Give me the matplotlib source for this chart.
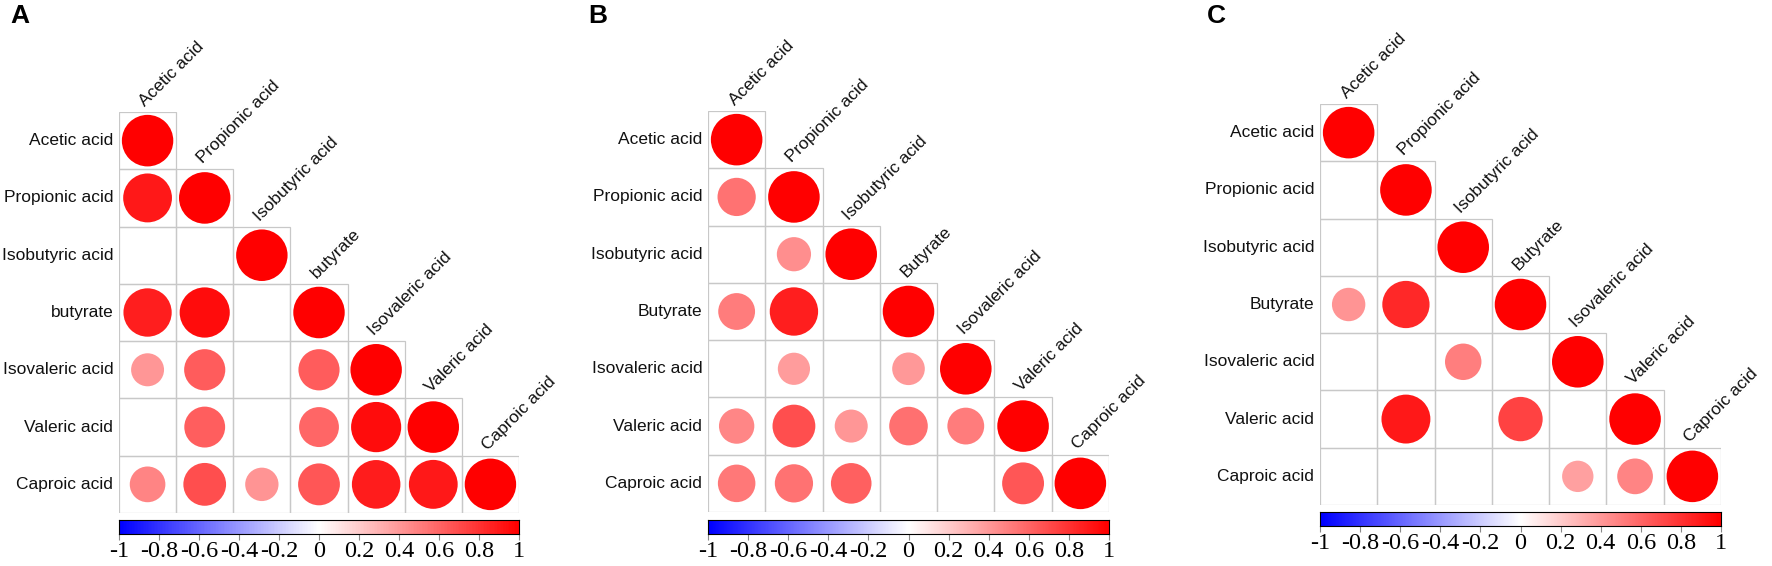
import numpy as np
import matplotlib
matplotlib.use("Agg")
import matplotlib.pyplot as plt
from matplotlib.colors import LinearSegmentedColormap
from matplotlib.patches import Circle, Rectangle

nan = np.nan

# ── data ─────────────────────────────────────────────────────────────────────
labels_a = ["Acetic acid", "Propionic acid", "Isobutyric acid", "butyrate",
            "Isovaleric acid", "Valeric acid", "Caproic acid"]
labels_bc = ["Acetic acid", "Propionic acid", "Isobutyric acid", "Butyrate",
             "Isovaleric acid", "Valeric acid", "Caproic acid"]

# lower triangle, row by row (nan = not significant / blank)
corr_a = [
    [1],
    [0.90, 1],
    [nan, nan, 1],
    [0.88, 0.95, nan, 1],
    [0.41, 0.64, nan, 0.64, 1],
    [nan, 0.63, nan, 0.60, 0.95, 1],
    [0.48, 0.69, 0.42, 0.66, 0.89, 0.90, 1],
]
corr_b = [
    [1],
    [0.55, 1],
    [nan, 0.44, 1],
    [0.51, 0.88, nan, 1],
    [nan, 0.39, nan, 0.40, 1],
    [0.47, 0.69, 0.41, 0.56, 0.51, 1],
    [0.53, 0.55, 0.62, nan, nan, 0.66, 1],
]
corr_c = [
    [1],
    [nan, 1],
    [nan, nan, 1],
    [0.42, 0.84, nan, 1],
    [nan, nan, 0.50, nan, 1],
    [nan, 0.90, nan, 0.74, nan, 1],
    [nan, nan, nan, nan, 0.37, 0.48, 1],
]

cbar_ticks = [-1, -0.8, -0.6, -0.4, -0.2, 0, 0.2, 0.4, 0.6, 0.8, 1]
cbar_labels = ["-1", "-0.8", "-0.6", "-0.4", "-0.2", "0",
               "0.2", "0.4", "0.6", "0.8", "1"]

# ── layout (pixels) ──────────────────────────────────────────────────────────
W, H = 1772, 566
panels = [
    # letter, letter_x, labels, corr, grid box (x0, y0, x1, y1), colorbar box
    ("A", 10, labels_a, corr_a, (119, 112, 519, 513), (119, 520, 519, 534)),
    ("B", 588, labels_bc, corr_b, (708, 111, 1109, 512), (708, 520, 1109, 534)),
    ("C", 1207, labels_bc, corr_c, (1320, 104, 1721, 505), (1320, 512, 1721, 526)),
]

cmap = LinearSegmentedColormap.from_list("bwr_corr", ["#0000FF", "#FFFFFF", "#FF0000"])
SANS = "Liberation Sans"
SERIF = "Liberation Serif"
GRID = "#c8c8c8"


def fig_box(x0, y0, x1, y1):
    return [x0 / W, 1 - y1 / H, (x1 - x0) / W, (y1 - y0) / H]


fig = plt.figure(figsize=(W / 100, H / 100), dpi=100)

for letter, lx, labels, corr, gbox, cbox in panels:
    n = len(labels)
    ax = fig.add_axes(fig_box(*gbox))
    ax.set_xlim(0, n)
    ax.set_ylim(n, 0)
    ax.axis("off")

    for i, row in enumerate(corr):
        for j, r in enumerate(row):
            ax.add_patch(Rectangle((j, i), 1, 1, facecolor="none",
                                   edgecolor=GRID, lw=0.9, zorder=1))
            if np.isnan(r):
                continue
            rad = 0.45 * np.sqrt(abs(r))
            ax.add_patch(Circle((j + 0.5, i + 0.5), rad,
                                facecolor=cmap((r + 1) / 2),
                                edgecolor="none", zorder=2))

    # row labels
    for i, lab in enumerate(labels):
        ax.text(-0.1, i + 0.5, lab, ha="right", va="center",
                fontsize=12.5, family=SANS, color="#111111")
    # diagonal column labels
    for j, lab in enumerate(labels):
        ax.text(j + 0.5, j - 0.05, lab, ha="left", va="bottom",
                rotation=45, rotation_mode="anchor",
                fontsize=12.5, family=SANS, color="#111111", clip_on=False)

    # colour bar
    cax = fig.add_axes(fig_box(*cbox))
    grad = np.linspace(-1, 1, 400)[None, :]
    cax.imshow(grad, extent=[-1, 1, 0, 1], aspect="auto", cmap=cmap,
               vmin=-1, vmax=1)
    cax.set_xlim(-1, 1)
    cax.set_yticks([])
    cax.set_xticks(cbar_ticks)
    cax.set_xticklabels(cbar_labels, family=SERIF, fontsize=17.5)
    cax.tick_params(axis="x", direction="out", length=4, width=0.8,
                    color="#888888", pad=1)
    for sp in cax.spines.values():
        sp.set_linewidth(0.8)
        sp.set_color("black")

    fig.text(lx / W, 1 - 4 / H, letter, ha="left", va="top",
             fontsize=19, fontweight="bold", family=SANS)

fig.savefig("out.png", dpi=100, facecolor="white")
